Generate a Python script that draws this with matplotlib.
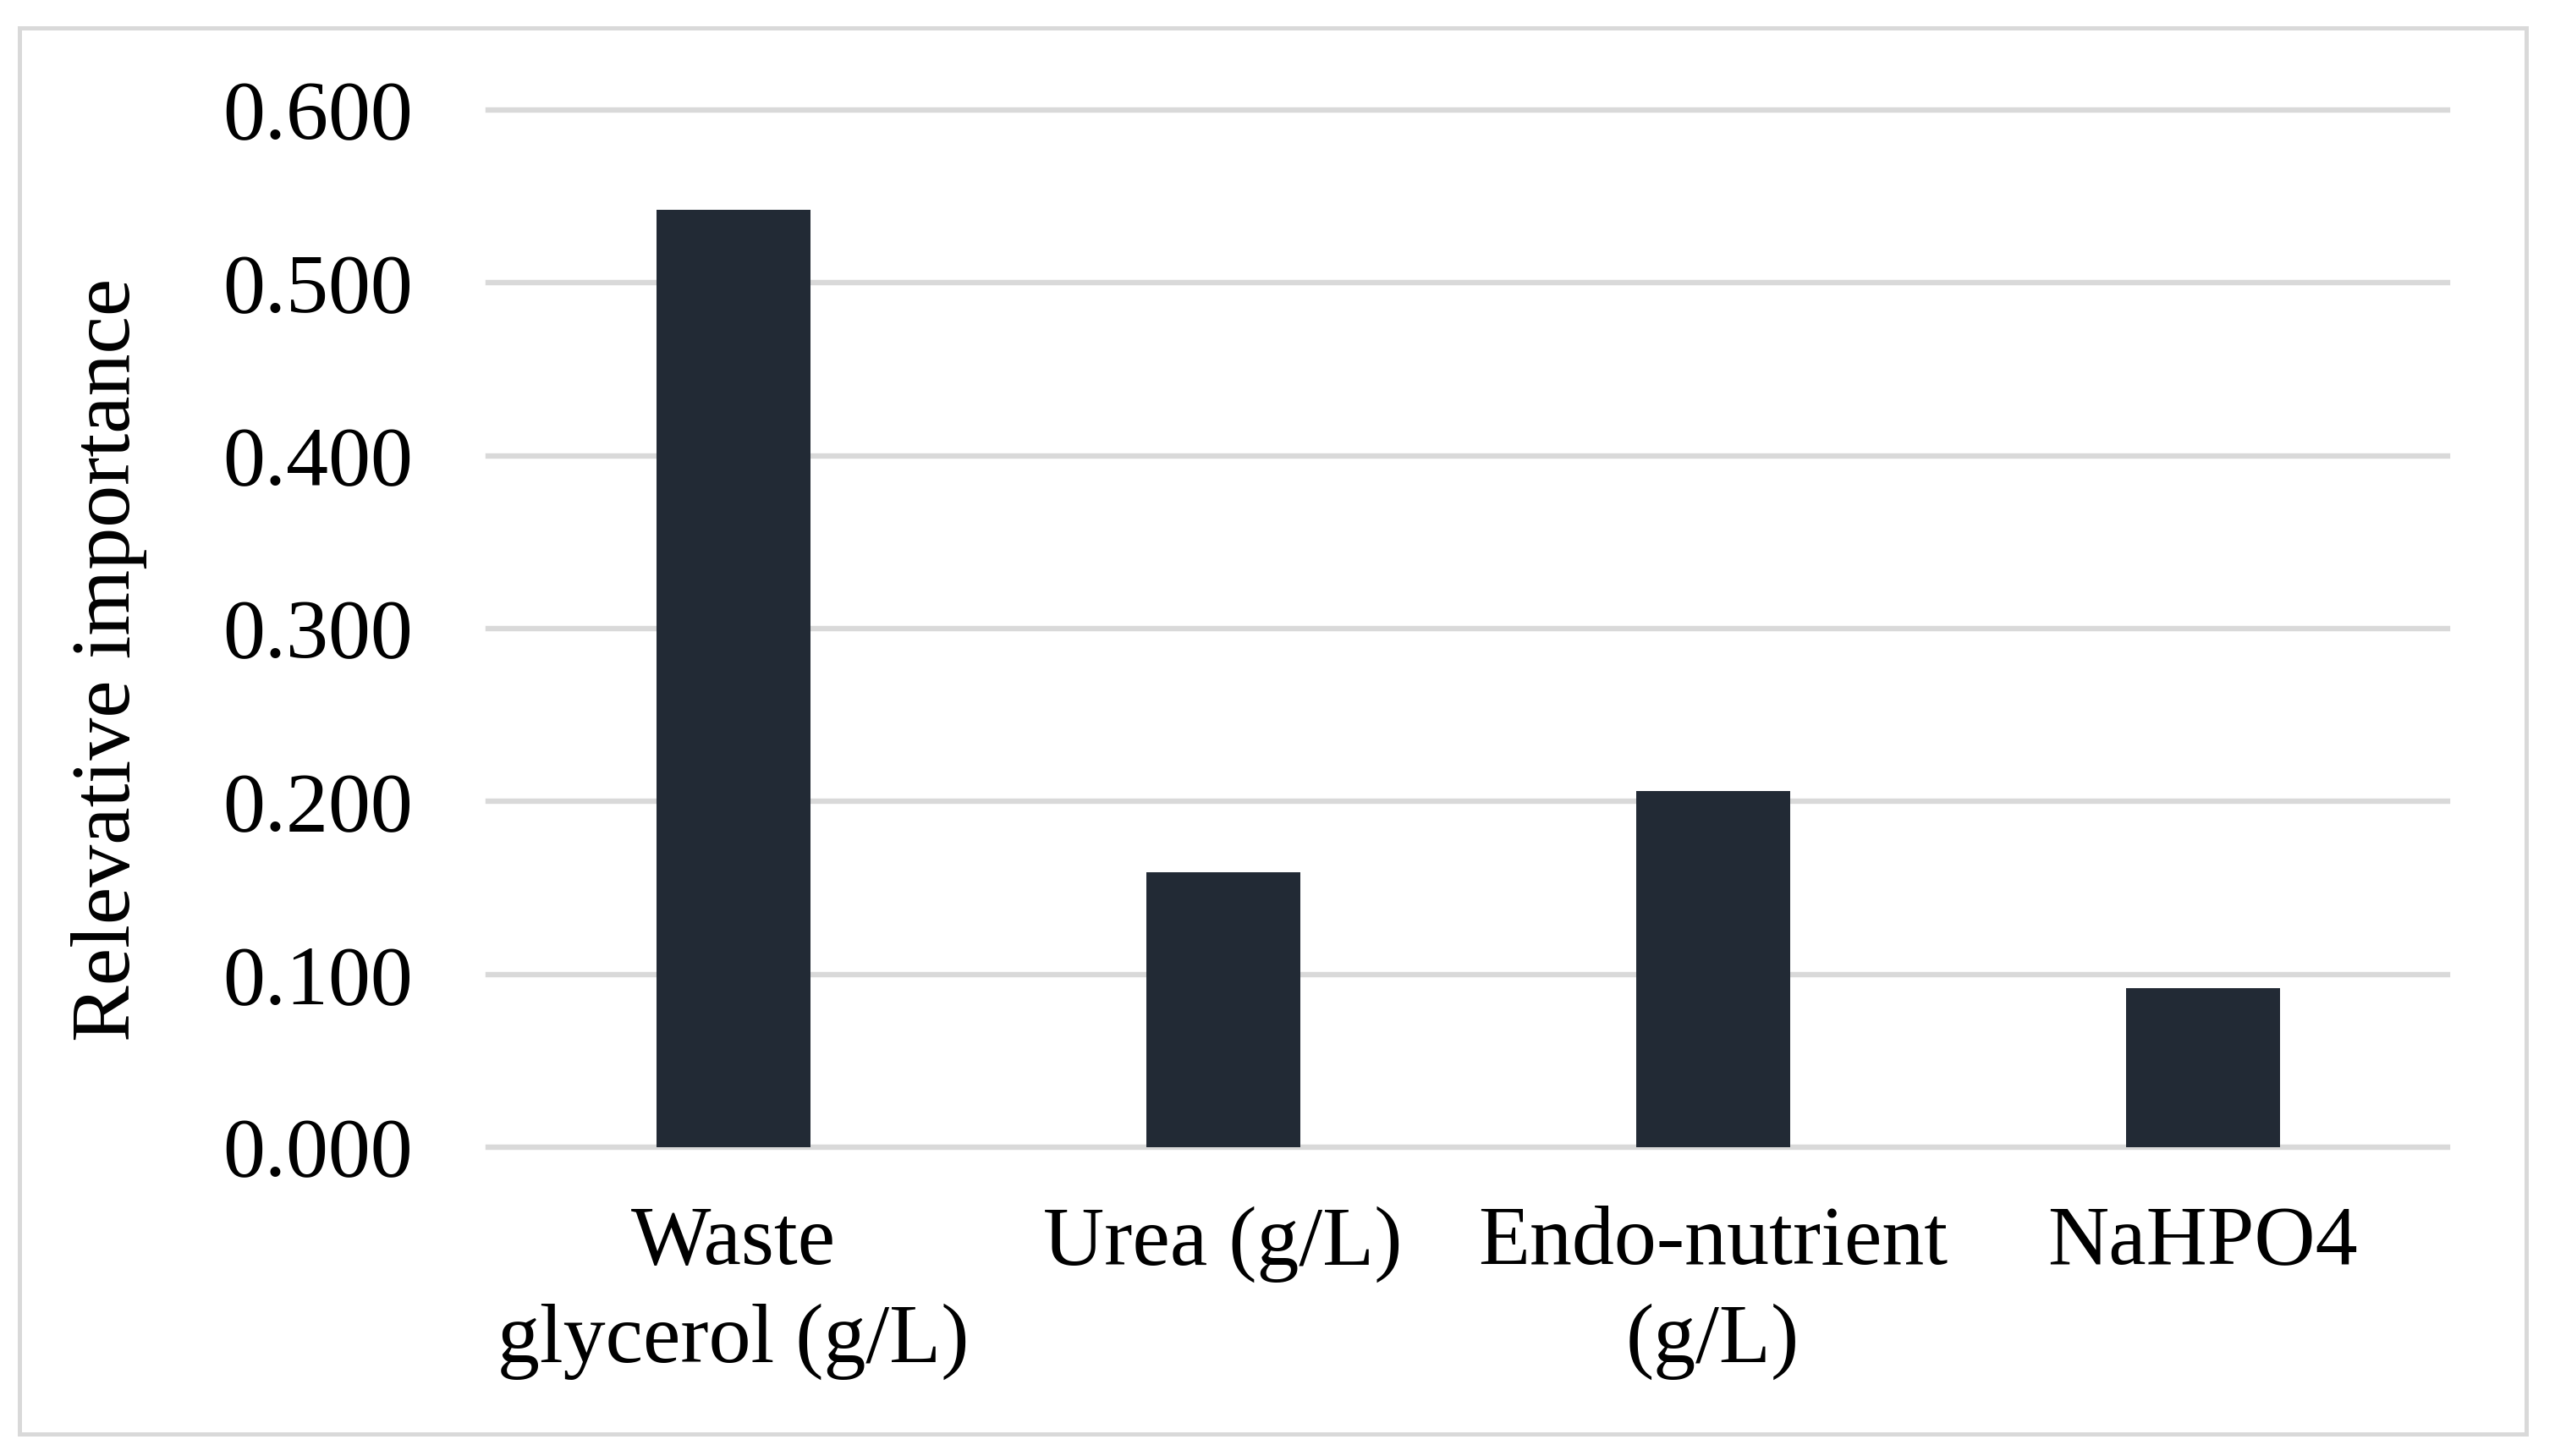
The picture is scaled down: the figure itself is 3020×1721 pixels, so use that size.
import matplotlib.pyplot as plt
from matplotlib.patches import Rectangle

plt.rcParams['font.family'] = ['Liberation Serif', 'DejaVu Serif']

categories = ['Waste\nglycerol (g/L)', 'Urea (g/L)', 'Endo-nutrient\n(g/L)', 'NaHPO4']
importance = [0.542, 0.159, 0.206, 0.092]
yticks = [0.0, 0.1, 0.2, 0.3, 0.4, 0.5, 0.6]

fig = plt.figure(figsize=(15.1, 8.605), dpi=200)
ax = fig.add_axes([0.1911, 0.2121, 0.7669, 0.7124])

x = list(range(len(categories)))
ax.bar(x, importance, width=0.314, color='#222A35', zorder=3)

ax.set_xlim(-0.5, len(categories) - 0.5)
ax.set_ylim(0, 0.6)
ax.set_yticks(yticks)
ax.set_yticklabels(['%.3f' % v for v in yticks])
ax.set_xticks(x)
ax.set_xticklabels(categories, linespacing=1.36)

ax.tick_params(axis='both', length=0, labelsize=36)
ax.tick_params(axis='y', pad=32)
ax.tick_params(axis='x', pad=25)

ax.grid(axis='y', color='#D9D9D9', linewidth=2.3, zorder=0)
ax.set_axisbelow(True)
for s in ax.spines.values():
    s.set_visible(False)
for gl in ax.yaxis.get_gridlines():
    gl.set_clip_on(False)

fig.text(0.0427, 0.547, 'Relevative importance', rotation=90, ha='center', va='center', fontsize=36)

# grey frame around the whole chart
fig.patches.append(Rectangle((23 / 3020, 1 - 1695 / 1721), 2963 / 3020, 1662 / 1721,
                             transform=fig.transFigure, fill=False,
                             edgecolor='#D9D9D9', linewidth=1.8))

fig.savefig('out.png', dpi=200)
